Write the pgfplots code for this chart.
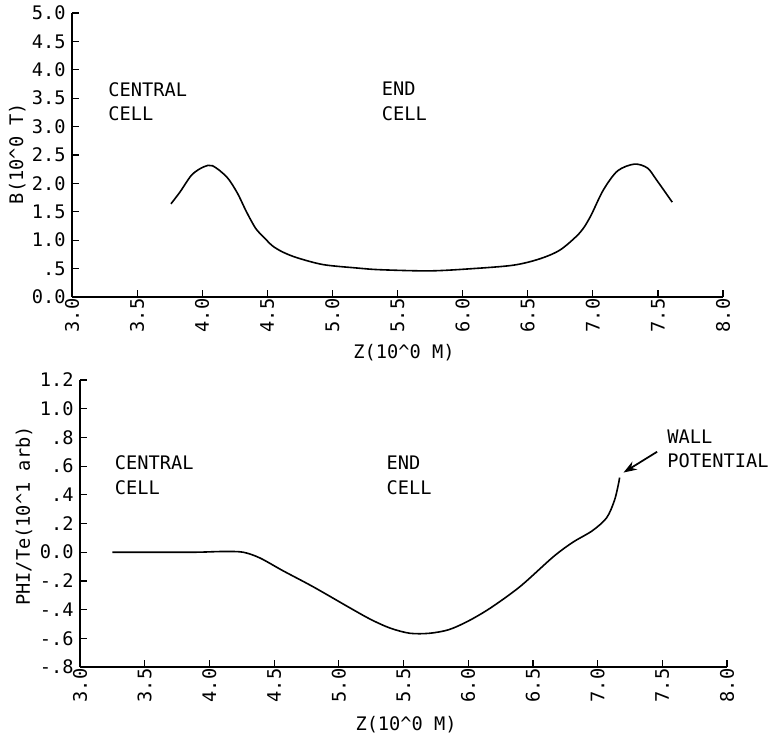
\documentclass[border=0pt]{standalone}
\usepackage{fontspec}
\setmainfont{DejaVu Sans Mono}
\usepackage{pgfplots}
\pgfplotsset{compat=1.18}
\usetikzlibrary{arrows.meta}

\pgfplotstableread{
z B
3.76 1.64
3.83 1.85
3.92 2.15
4.01 2.29
4.08 2.31
4.19 2.11
4.27 1.83
4.34 1.50
4.41 1.21
4.47 1.06
4.54 0.90
4.62 0.79
4.73 0.69
4.93 0.57
5.19 0.51
5.37 0.48
5.75 0.46
6.08 0.50
6.39 0.56
6.59 0.67
6.75 0.83
6.90 1.13
6.98 1.41
7.08 1.88
7.19 2.22
7.32 2.34
7.42 2.27
7.49 2.06
7.61 1.67
}\Bdata

\pgfplotstableread{
z phi
3.25 0.00
3.60 0.00
3.90 0.00
4.11 0.005
4.26 0.00
4.39 -0.04
4.57 -0.13
4.80 -0.24
5.09 -0.39
5.25 -0.47
5.40 -0.53
5.55 -0.565
5.70 -0.565
5.85 -0.54
6.00 -0.48
6.17 -0.39
6.40 -0.24
6.66 -0.03
6.81 0.07
6.96 0.15
7.07 0.24
7.13 0.36
7.16 0.47
7.17 0.52
}\Phidata

\begin{document}
\fontsize{14}{17}\selectfont
\begin{tikzpicture}
\useasboundingbox (0pt,0pt) rectangle (580.5pt,557.25pt);
\fill[white] (0pt,0pt) rectangle (580.5pt,557.25pt);
\pgfplotsset{
 plotstyle/.style={
  scale only axis,
  clip=false,
  axis lines=left,
  axis line style={-, line width=1.1pt},
  tick align=inside,
  tick style={line width=0.9pt, black},
  major tick length=5pt,
  xmin=3, xmax=8,
  xtick={3,3.5,4,4.5,5,5.5,6,6.5,7,7.5,8},
  xticklabels={3.0,3.5,4.0,4.5,5.0,5.5,6.0,6.5,7.0,7.5,8.0},
  xticklabel style={rotate=90, anchor=east, inner sep=1pt},
  ticklabel style={font=\fontsize{14}{17}\selectfont},
  label style={font=\fontsize{14}{17}\selectfont},
 }
}
\begin{axis}[plotstyle,
  at={(54pt,334.5pt)}, anchor=south west,
  width=488.25pt, height=213pt,
  ymin=0, ymax=5,
  ytick={0,0.5,1,1.5,2,2.5,3,3.5,4,4.5,5},
  yticklabels={0.0,.5,1.0,1.5,2.0,2.5,3.0,3.5,4.0,4.5,5.0},
  xlabel={Z(10\textasciicircum 0 M)},
  xlabel style={at={(axis description cs:0.51,0)}, anchor=center, yshift=-42pt},
  ylabel={B(10\textasciicircum 0 T)},
  ylabel style={at={(axis description cs:0,0.505)}, anchor=center, yshift=41pt},
]
\addplot[line width=1.2pt, black, smooth, tension=0.5] table[x=z, y=B] {\Bdata};
\node[anchor=west, align=left, font=\fontsize{14}{18.5}\selectfont] at (axis cs:3.23,3.44) {CENTRAL\\CELL};
\node[anchor=west, align=left, font=\fontsize{14}{18.5}\selectfont] at (axis cs:5.33,3.44) {END\\CELL};
\end{axis}

\begin{axis}[plotstyle,
  at={(60pt,57pt)}, anchor=south west,
  width=485.25pt, height=215.25pt,
  ymin=-0.8, ymax=1.2,
  ytick={-0.8,-0.6,-0.4,-0.2,0,0.2,0.4,0.6,0.8,1.0,1.2},
  yticklabels={-.8,-.6,-.4,-.2,0.0,.2,.4,.6,.8,1.0,1.2},
  xlabel={Z(10\textasciicircum 0 M)},
  xlabel style={at={(axis description cs:0.504,0)}, anchor=center, yshift=-43.5pt},
  ylabel={PHI/Te(10\textasciicircum 1 arb)},
  ylabel style={at={(axis description cs:0,0.526)}, anchor=center, yshift=42pt},
]
\addplot[line width=1.2pt, black, smooth, tension=0.5] table[x=z, y=phi] {\Phidata};
\node[anchor=west, align=left, font=\fontsize{14}{18.5}\selectfont] at (axis cs:3.22,0.535) {CENTRAL\\CELL};
\node[anchor=west, align=left, font=\fontsize{14}{18.5}\selectfont] at (axis cs:5.32,0.535) {END\\CELL};
\node[anchor=west, align=left, font=\fontsize{14}{18.5}\selectfont] at (axis cs:7.49,0.72) {WALL\\POTENTIAL};
\draw[line width=1.3pt, -{Stealth[length=10pt,width=7pt]}] (axis cs:7.46,0.70) -- (axis cs:7.20,0.555);
\end{axis}
\end{tikzpicture}
\end{document}
